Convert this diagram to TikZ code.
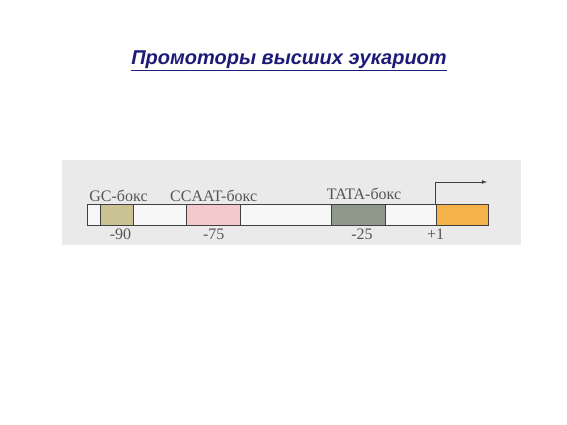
\documentclass[tikz,border=0pt]{standalone}
\usepackage{fontspec}
\setmainfont{Liberation Serif}
\newfontfamily\titlefont{Liberation Sans}
\usetikzlibrary{positioning}
\definecolor{titleblue}{HTML}{1C1C78}
\definecolor{panelgray}{HTML}{EAEAEA}
\definecolor{gcfill}{HTML}{C9C293}
\definecolor{ccaatfill}{HTML}{F4C9CB}
\definecolor{tatafill}{HTML}{8E998C}
\definecolor{startfill}{HTML}{F5B24A}
\definecolor{labgray}{HTML}{555555}

\begin{document}
\begin{tikzpicture}[x=1pt,y=-1pt,node distance=0pt,
  box/.style={draw=black!75,line width=0.8pt,minimum height=21pt,inner sep=0pt},
  lab/.style={text=labgray,font=\fontsize{16}{16}\selectfont,inner sep=1pt}]
   \useasboundingbox (0,0) rectangle (567,425);
   \fill[panelgray] (62,160) rectangle (521,245);
   \node[font=\titlefont\bfseries\itshape\fontsize{20}{22}\selectfont,text=titleblue] (title) at (289,61) {\underline{Промоторы высших эукариот}};
   % promoter line
   \node[box,fill=black!3,minimum width=401pt] (bar) at (287.5,214.5) {};
   \node[box,fill=gcfill,minimum width=33pt] (gc) at (116.5,214.5) {};
   \node[box,fill=ccaatfill,minimum width=54pt] (ccaat) at (213.7,214.5) {};
   \node[box,fill=tatafill,minimum width=54pt] (tata) at (358,214.5) {};
   \node[box,fill=startfill,minimum width=52pt] (start) at (462,214.5) {};
   % names above
   \node[lab] (gclab) [above=1pt of gc,xshift=2pt] {GC-бокс};
   \node[lab] (ccaatlab) [above=1pt of ccaat] {CCAAT-бокс};
   \node[lab] (tatalab) [above=3pt of tata,xshift=6pt] {TATA-бокс};
   % positions below
   \node[lab] (m90) [below=2pt of gc,xshift=4pt] {-90};
   \node[lab] (m75) [below=2pt of ccaat] {-75};
   \node[lab] (m25) [below=2pt of tata,xshift=4pt] {-25};
   \node[lab] (p1) [below=2pt of start.south west] {+1};
   % transcription start
   \coordinate (tss) at (487,182);
   \draw[-latex,line width=0.8pt,black!75] (start.north west) |- (tss);
\end{tikzpicture}
\end{document}
